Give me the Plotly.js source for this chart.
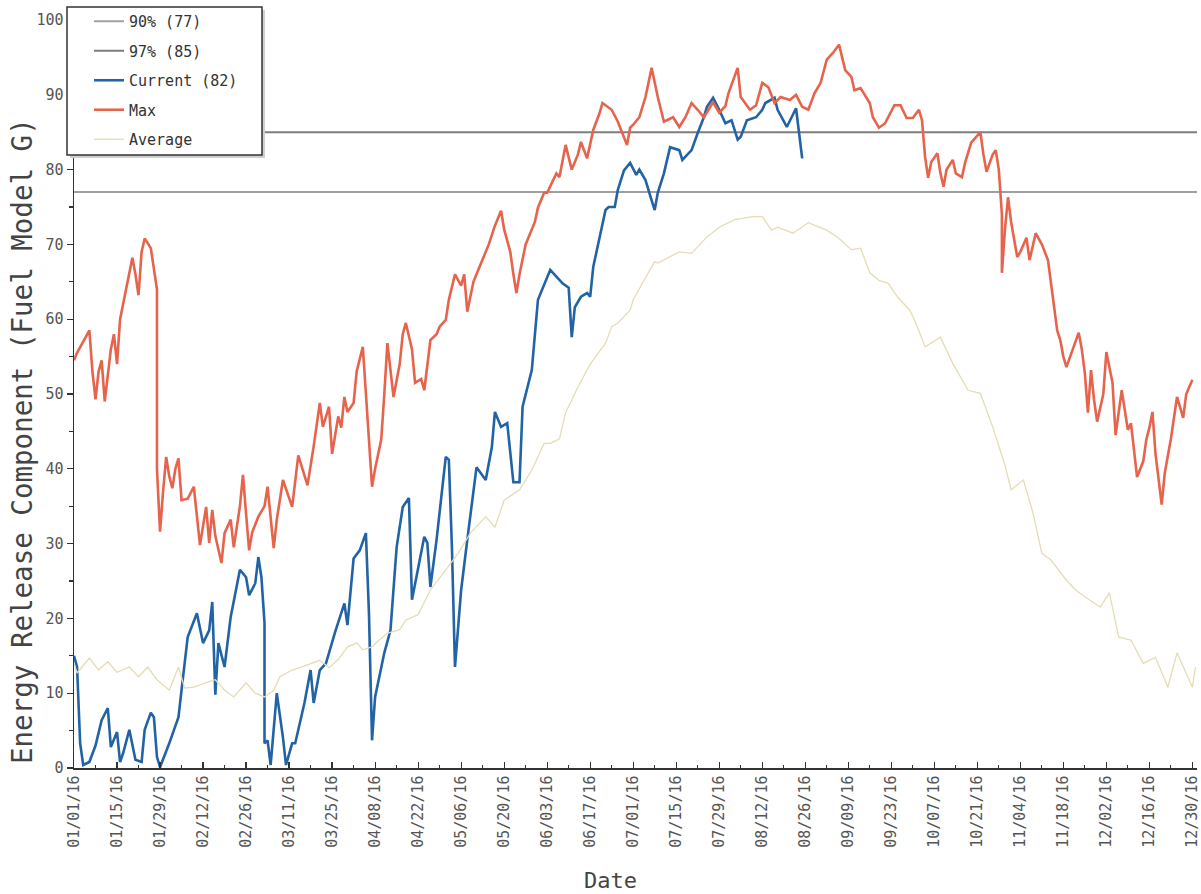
<!DOCTYPE html>
<html><head><meta charset="utf-8">
<script src="https://cdn.plot.ly/plotly-3.0.1.min.js"></script>
<style>html,body{margin:0;padding:0;background:#fff}#chart{width:1201px;height:894px}</style>
</head><body><div id="chart"></div>
<script>
// Day offsets from 2016-01-01, with ERC values
const pct90Value = 77;
const pct97Value = 85;
const seriesNames = ['90% (77)', '97% (85)', 'Current (82)', 'Max', 'Average'];
const axisRange = ['2016-01-01', '2016-12-31 12:00'];
const xTitle = 'Date';
const yTitle = 'Energy Release Component (Fuel Model G)';

const maxSeries = [
[0,54.5],[1,55.5],[3,57],[5,58.5],[6,53],[7,49.3],[8,53],[9,54.5],[10,49],[12,56],[13,58],[14,54],[15,60],[17,64],[19,68.2],[20,66],[21,63.2],[22,69],[23,70.8],[25,69.5],[26,67],[27,64],[27,40],[28,31.6],[29,37],[30,41.6],[31,39],[32,37.4],[33,40],[34,41.4],[35,35.8],[37,36],[39,37.6],[40,34.1],[41,29.8],[43,34.9],[44,30.1],[45,34.5],[46,31],[48,27.4],[49,31.4],[51,33.2],[52,29.5],[54,35],[55,39.2],[56,34],[57,29.1],[58,31.5],[60,33.6],[62,35],[63,37.6],[65,29.4],[66,33.2],[68,38.5],[70,36],[71,34.9],[73,41.8],[76,37.8],[78,43],[80,48.8],[81,45.6],[83,48.3],[84,42],[86,47],[87,45.5],[88,49.6],[89,47.6],[91,48.8],[92,53],[94,56.3],[95,50.1],[96,44],[97,37.6],[98,40],[100,43.9],[101,50],[102,56.8],[104,49.6],[106,54],[107,58],[108,59.5],[110,56],[111,51.5],[113,52],[114,50.5],[116,57.2],[118,58],[119,59],[121,59.9],[122,62.6],[124,66],[126,64.5],[127,66],[128,61],[130,65],[132,67],[133,68],[135,70],[137,72.5],[139,74.5],[140,72],[142,69],[143,66],[144,63.5],[145,66],[147,70],[150,73],[151,74.9],[153,76.9],[154,76.9],[157,79.5],[158,79],[160,83.3],[162,80],[164,82],[165,83.7],[167,81.5],[169,85.3],[171,87.5],[172,88.9],[175,88],[177,86.4],[180,83.3],[181,85.6],[182,86],[184,87],[186,89.7],[188,93.6],[190,89.7],[192,86.4],[195,87],[197,85.7],[199,87],[201,88.9],[203,88],[205,87],[208,89],[210,87.6],[212,88.5],[213,90.2],[216,93.6],[217,89.7],[220,88],[222,88.6],[224,91.6],[226,91],[228,88.9],[230,89.7],[233,89.3],[235,90],[237,88.4],[239,88],[241,90.2],[243,91.6],[245,94.7],[247,95.6],[249,96.7],[251,93.3],[253,92.4],[254,90.6],[256,90.9],[259,88.9],[260,87],[262,85.6],[264,86.2],[267,88.6],[269,88.6],[271,86.9],[273,86.9],[275,88],[276,86.6],[277,81.7],[278,78.9],[279,81],[281,82.2],[282,79.5],[283,77.7],[284,80],[286,81.3],[287,79.5],[289,79],[290,80.9],[292,83.6],[295,85],[296,82],[297,79.7],[299,82],[300,82.6],[301,80],[302,74],[302,66.2],[303,72],[304,76.3],[305,73],[307,68.3],[308,69],[310,70.9],[311,67.9],[313,71.5],[315,70],[317,67.9],[319,61.2],[320,58.5],[321,57.2],[322,55],[323,53.6],[325,56],[327,58.2],[328,56],[329,52.8],[330,47.5],[331,53.2],[332,49.2],[333,46.3],[335,50],[336,55.6],[338,51.5],[339,44.5],[341,50.5],[343,45.2],[344,46.1],[346,38.9],[348,41],[349,43.9],[350,45.5],[351,47.6],[352,42],[354,35.2],[355,39.4],[357,44],[359,49.6],[361,46.8],[362,50],[364,51.9]
];

const currentSeries = [
[0,15],[1,13.5],[2,3.3],[3,0.4],[5,0.8],[7,3],[9,6.4],[11,8],[12,2.8],[14,4.8],[15,0.8],[16,2],[18,5.1],[20,1.1],[22,0.8],[23,5.1],[25,7.4],[26,6.8],[27,1.5],[28,0.1],[31,3.3],[34,6.8],[35,10.4],[37,17.5],[40,20.7],[42,16.7],[44,18.4],[45,22.2],[46,9.8],[47,16.7],[49,13.5],[51,20.2],[54,26.5],[56,25.5],[57,23.1],[59,24.7],[60,28.2],[61,25.5],[62,19.4],[62,3.3],[63,3.7],[64,0.4],[66,10],[68,4.1],[69,0.4],[71,3.3],[72,3.3],[75,8.7],[77,13.1],[78,8.7],[80,13.1],[82,14],[85,18.2],[88,22],[89,19.1],[91,28],[93,29.1],[95,31.4],[96,20.7],[97,3.7],[98,9.5],[101,15.4],[103,18.4],[105,29.5],[107,34.9],[109,36.1],[110,22.5],[112,26.9],[114,30.9],[115,30.1],[116,24.2],[118,30.5],[121,41.6],[122,41.2],[123,29.5],[124,13.5],[126,23.8],[128,30.5],[131,40.2],[134,38.5],[136,42.9],[137,47.6],[139,45.6],[141,46.1],[143,38.2],[145,38.2],[146,48.3],[149,53.2],[151,62.6],[155,66.6],[159,64.8],[161,64.2],[162,57.6],[163,61.6],[165,63],[167,63.5],[168,63],[169,67],[171,70.6],[173,74.6],[174,75],[176,75],[177,77.3],[179,79.9],[181,80.9],[183,79.3],[184,80],[186,78.6],[188,75.9],[189,74.6],[190,76.9],[192,79.5],[194,83],[197,82.6],[198,81.3],[201,82.6],[203,84.9],[205,87],[206,88.4],[208,89.6],[210,88],[212,86.2],[214,86.6],[216,84],[217,84.4],[219,86.6],[222,87],[224,88],[225,88.9],[228,89.6],[229,88],[232,85.7],[235,88.2],[236,84.6],[237,81.5]
];

const averageSeries = [
[0,14],[1,12.7],[5,14.7],[8,13.1],[11,14.2],[14,12.8],[18,13.5],[21,12.2],[24,13.5],[27,11.8],[31,10.4],[34,13.5],[36,10.7],[39,10.8],[43,11.4],[46,11.8],[49,10.4],[52,9.5],[56,11.4],[59,10],[62,9.5],[65,10.4],[67,12.2],[71,13.1],[74,13.5],[77,14],[80,14.4],[83,13.4],[86,14.5],[89,16.2],[92,16.7],[94,15.8],[97,16.2],[99,17],[102,18],[106,18.5],[108,19.8],[112,20.5],[116,23.8],[121,26.5],[125,28.7],[129,31.4],[134,33.6],[137,32.2],[140,35.8],[145,37.2],[149,39.8],[153,43.4],[155,43.4],[158,44],[160,47.5],[162,49.2],[164,50.9],[168,54],[173,56.8],[175,59],[177,59.5],[181,61.2],[182,62.6],[185,64.8],[189,67.7],[190,67.5],[197,69],[201,68.8],[206,71],[210,72.3],[215,73.3],[221,73.7],[224,73.7],[227,71.9],[229,72.3],[234,71.5],[239,72.9],[245,71.9],[249,70.8],[253,69.3],[256,69.5],[259,66.2],[262,65.2],[265,64.8],[268,63],[272,61.2],[274,59.5],[277,56.3],[282,57.6],[286,54.1],[291,50.5],[295,50.1],[299,45.6],[303,40.5],[305,37.2],[309,38.5],[312,34.3],[315,28.7],[318,27.8],[323,25.1],[326,23.8],[329,22.9],[334,21.5],[337,23.4],[340,17.5],[344,17.1],[348,14],[352,14.8],[356,10.8],[359,15.4],[361,13.5],[364,10.8],[365,13.5]
];

function dayToDate(d) {
  return new Date(Date.UTC(2016, 0, 1) + d * 86400000).toISOString().slice(0, 10);
}
const xs = s => s.map(p => dayToDate(p[0]));
const ys = s => s.map(p => p[1]);

const mono = '"DejaVu Sans Mono", "Liberation Mono", monospace';
const DAY = 86400000;

const traces = [
  {x: axisRange, y: [pct90Value, pct90Value], name: seriesNames[0], legendgroup: 'g1', mode: 'lines',
   line: {color: '#a0a0a0', width: 2}},
  {x: axisRange, y: [pct97Value, pct97Value], name: seriesNames[1], legendgroup: 'g2', mode: 'lines',
   line: {color: '#7d7d7d', width: 2}},
  {x: xs(currentSeries), y: ys(currentSeries), name: seriesNames[2], legendgroup: 'g3', mode: 'lines',
   line: {color: '#2263a6', width: 2.6}},
  {x: xs(maxSeries), y: ys(maxSeries), name: seriesNames[3], legendgroup: 'g4', mode: 'lines',
   line: {color: '#e6634c', width: 2.6}},
  {x: xs(averageSeries), y: ys(averageSeries), name: seriesNames[4], legendgroup: 'g5', mode: 'lines',
   line: {color: '#e6dcb4', width: 1.3}}
];

const W = 1201, H = 894, L = 74, R = 4, T = 20, B = 126;
const pw = W - L - R, ph = H - T - B;
const px = v => (v - L) / pw;
const py = v => (H - B - v) / ph;

const layout = {
  width: W, height: H,
  margin: {l: L, r: R, t: T, b: B},
  paper_bgcolor: '#ffffff', plot_bgcolor: '#ffffff',
  showlegend: true,
  legend: {
    x: px(89), y: py(5), xanchor: 'left', yanchor: 'top',
    bgcolor: 'rgba(0,0,0,0)', borderwidth: 0,
    font: {family: mono, size: 15, color: '#333'},
    traceorder: 'grouped', tracegroupgap: 7, itemwidth: 30
  },
  shapes: [
    {type: 'rect', xref: 'paper', yref: 'paper', layer: 'above',
     x0: px(70), x1: px(265), y0: py(158), y1: py(10),
     fillcolor: '#cfcfcf', line: {width: 0}},
    {type: 'rect', xref: 'paper', yref: 'paper', layer: 'above',
     x0: px(67), x1: px(262), y0: py(155), y1: py(7),
     fillcolor: '#ffffff', line: {color: '#333', width: 1.5}}
  ],
  annotations: [
    {text: xTitle, xref: 'paper', yref: 'paper', x: px(610), y: py(880), xanchor: 'center', yanchor: 'middle',
     showarrow: false, font: {family: mono, size: 22, color: '#444'}},
    {text: yTitle, xref: 'paper', yref: 'paper', x: px(22), y: py(441), xanchor: 'center', yanchor: 'middle',
     textangle: -90, showarrow: false, font: {family: mono, size: 27.5, color: '#444'}}
  ],
  xaxis: {
    type: 'date', range: axisRange,
    tick0: '2016-01-01', dtick: 14 * DAY, tickformat: '%m/%d/%y', tickangle: -90,
    ticks: 'inside', ticklen: 6, tickwidth: 1.2, tickcolor: '#333',
    minor: {dtick: 7 * DAY, tick0: '2016-01-01', ticks: 'inside', ticklen: 3, tickcolor: '#333', showgrid: false},
    showline: true, linecolor: '#333', linewidth: 1.5,
    showgrid: false, zeroline: false, ticklabeloverflow: 'allow',
    tickfont: {family: mono, size: 15, color: '#555'}
  },
  yaxis: {
    range: [0, 100], dtick: 10, tick0: 0,
    ticks: 'outside', ticklen: 6, tickwidth: 1.2, tickcolor: '#333',
    minor: {dtick: 5, ticks: 'outside', ticklen: 4, tickcolor: '#333', showgrid: false},
    showline: true, linecolor: '#333', linewidth: 1.5,
    showgrid: false, zeroline: false,
    tickfont: {family: mono, size: 15, color: '#555'}
  }
};

Plotly.newPlot('chart', traces, layout, {displayModeBar: false, staticPlot: true});
</script>
</body></html>
